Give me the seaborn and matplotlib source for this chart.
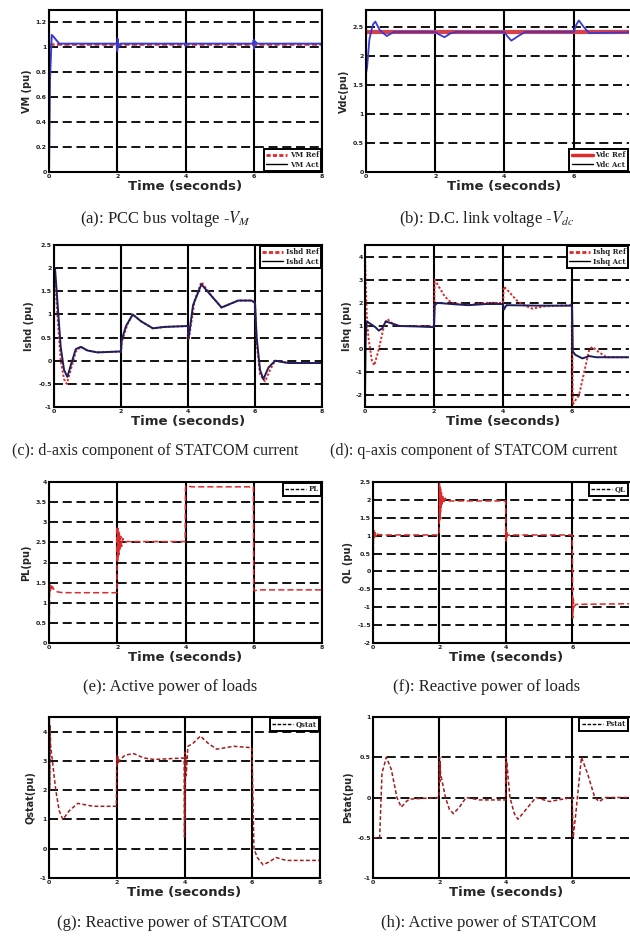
import matplotlib
matplotlib.use("Agg")
import matplotlib.pyplot as plt
import seaborn as sns
from matplotlib.lines import Line2D

sns.set_style("white")
plt.rcParams['font.family'] = ['DejaVu Sans']
plt.rcParams['mathtext.fontset'] = 'stix'

# ---------------- data ----------------
x_ticks_left = [0, 2, 4, 6, 8]
x_ticks_right = [0, 2, 4, 6]

# (a) PCC bus voltage
vm_ref_t = [0, 8]
vm_ref = [1.03, 1.03]
vm_act_t = [0, 0.03, 0.08, 0.15, 0.3, 0.6, 1.98, 2.0, 2.01, 2.03, 2.1, 3.99, 4.0, 4.02,
            5.98, 6.0, 6.01, 6.03, 6.1, 8]
vm_act = [0, 0.75, 1.1, 1.08, 1.03, 1.03, 1.03, 0.97, 1.07, 1.0, 1.03, 1.03, 1.01, 1.03,
          1.03, 1.06, 0.99, 1.05, 1.03, 1.03]

# (b) DC link voltage
vdc_ref_t = [0, 8]
vdc_ref = [2.42, 2.42]
vdc_act_t = [0, 0.03, 0.1, 0.2, 0.27, 0.4, 0.6, 0.8, 1.0, 2.0, 2.1, 2.27, 2.45, 2.6,
             4.0, 4.08, 4.2, 4.4, 4.6, 6.0, 6.08, 6.15, 6.3, 6.45, 8]
vdc_act = [1.7, 1.8, 2.3, 2.55, 2.6, 2.45, 2.35, 2.42, 2.42, 2.42, 2.38, 2.33, 2.4, 2.42,
           2.42, 2.35, 2.27, 2.35, 2.42, 2.42, 2.55, 2.62, 2.5, 2.4, 2.42]

# (c) d-axis current
ishd_act_t = [0, 0.03, 0.1, 0.2, 0.3, 0.4, 0.5, 0.65, 0.8, 1.0, 1.3, 2.0, 2.02, 2.15, 2.35,
              2.6, 2.95, 3.3, 4.0, 4.02, 4.15, 4.4, 4.7, 5.0, 5.5, 5.9, 6.0, 6.05, 6.15,
              6.25, 6.4, 6.6, 7.0, 8]
ishd_act = [2.0, 2.0, 1.3, 0.3, -0.2, -0.35, -0.1, 0.25, 0.3, 0.22, 0.18, 0.2, 0.45, 0.75, 1.0,
            0.85, 0.7, 0.73, 0.75, 0.5, 1.2, 1.65, 1.4, 1.15, 1.3, 1.3, 1.25, 0.5, -0.2,
            -0.4, -0.15, 0.0, -0.05, -0.05]
ishd_ref_t = [0, 0.03, 0.1, 0.2, 0.3, 0.38, 0.5, 0.65, 0.8, 1.0, 1.3, 2.0, 2.02, 2.2, 2.35,
              2.6, 2.95, 3.3, 4.0, 4.02, 4.2, 4.4, 4.7, 5.0, 5.5, 5.9, 6.0, 6.05, 6.15,
              6.3, 6.45, 6.6, 7.0, 8]
ishd_ref = [2.0, 1.8, 1.0, 0.0, -0.4, -0.5, -0.2, 0.2, 0.3, 0.22, 0.18, 0.2, 0.4, 0.8, 1.0,
            0.85, 0.7, 0.73, 0.75, 0.45, 1.3, 1.7, 1.4, 1.15, 1.3, 1.3, 1.25, 0.4, -0.3,
            -0.45, -0.2, 0.0, -0.05, -0.05]

# (d) q-axis current
ishq_act_t = [0, 0.02, 0.05, 0.15, 0.3, 0.4, 0.5, 0.6, 0.8, 1.0, 1.5, 2.0, 2.02, 2.1, 2.5,
              3.0, 3.5, 4.0, 4.02, 4.1, 5.0, 6.0, 6.02, 6.1, 6.3, 6.5, 6.7, 7.0, 8]
ishq_act = [-2.0, 0.5, 1.2, 1.1, 0.95, 0.8, 0.9, 1.2, 1.1, 1.0, 0.98, 0.95, 1.9, 2.0, 1.95,
            1.9, 1.95, 1.95, 1.7, 1.9, 1.88, 1.88, -0.1, -0.25, -0.4, -0.3, -0.35, -0.35, -0.35]
ishq_ref_t = [0, 0.02, 0.05, 0.1, 0.2, 0.27, 0.4, 0.55, 0.65, 0.8, 1.0, 1.5, 2.0, 2.02, 2.1,
              2.3, 2.5, 3.0, 3.5, 4.0, 4.02, 4.1, 4.4, 4.6, 4.85, 5.2, 6.0, 6.02, 6.1, 6.2,
              6.35, 6.5, 6.6, 6.75, 7.0, 8]
ishq_ref = [4.0, 3.0, 1.5, 0.5, -0.5, -0.7, 0.0, 1.0, 1.3, 1.1, 1.0, 1.0, 1.0, 3.0, 2.8,
            2.3, 2.0, 1.9, 2.0, 2.0, 2.7, 2.6, 2.1, 1.9, 1.75, 1.85, 1.9, -2.4, -2.2, -2.0,
            -1.0, 0.0, 0.1, -0.1, -0.35, -0.35]

# (e) active power of loads
pl_t = [0, 0.02, 0.04, 0.06, 0.08, 0.1, 0.13, 0.17, 0.25, 0.4, 1.99, 2.0, 2.01, 2.02, 2.03,
        2.04, 2.05, 2.06, 2.08, 2.1, 2.13, 2.16, 2.2, 2.3, 3.99, 4.0, 4.01, 4.2, 5.99, 6.0,
        6.01, 6.2, 8]
pl = [0, 1.45, 1.3, 1.42, 1.33, 1.4, 1.35, 1.3, 1.27, 1.25, 1.25, 2.9, 2.0, 2.85, 2.1,
      2.8, 2.2, 2.75, 2.3, 2.65, 2.4, 2.6, 2.5, 2.52, 2.52, 3.85, 3.9, 3.88, 3.88, 1.35,
      1.3, 1.32, 1.32]

# (f) reactive power of loads
ql_t = [0, 0.02, 0.04, 0.06, 0.08, 0.1, 0.15, 0.3, 1.99, 2.0, 2.01, 2.02, 2.03, 2.04, 2.05,
        2.06, 2.08, 2.1, 2.13, 2.17, 2.22, 2.3, 3.99, 4.0, 4.01, 4.02, 4.03, 4.05, 4.1,
        5.99, 6.0, 6.01, 6.02, 6.04, 6.1, 8]
ql = [0, 1.15, 0.95, 1.12, 0.98, 1.08, 1.03, 1.02, 1.02, 2.5, 1.4, 2.4, 1.6, 2.3, 1.75,
      2.2, 1.85, 2.12, 1.9, 2.05, 1.97, 1.97, 1.97, 0.85, 1.15, 0.95, 1.08, 1.0, 1.02,
      1.02, 0.0, -1.3, -0.7, -1.0, -0.92, -0.9]

# (g) reactive power of STATCOM
qs_t = [0, 0.01, 0.02, 0.03, 0.05, 0.1, 0.2, 0.3, 0.41, 0.6, 0.85, 1.3, 1.99, 2.0, 2.01,
        2.02, 2.03, 2.05, 2.1, 2.25, 2.5, 2.8, 3.1, 3.99, 4.0, 4.01, 4.02, 4.03, 4.05, 4.1,
        4.25, 4.47, 4.7, 4.95, 5.2, 5.45, 5.99, 6.05, 6.15, 6.32, 6.5, 6.7, 7.0, 8]
qs = [0, 4.5, 2.0, 4.2, 3.5, 3.0, 2.0, 1.3, 1.0, 1.3, 1.55, 1.45, 1.45, 2.8, 3.2,
      2.85, 3.15, 2.95, 3.05, 3.2, 3.25, 3.1, 3.05, 3.1, 0.4, 3.3, 1.0, 3.2, 2.5, 3.5,
      3.6, 3.85, 3.6, 3.4, 3.45, 3.5, 3.45, 0.0, -0.3, -0.55, -0.45, -0.3, -0.4, -0.4]

# (h) active power of STATCOM
ps_t = [0, 0.2, 0.27, 0.4, 0.55, 0.72, 0.85, 1.0, 1.1, 1.99, 2.0, 2.01, 2.02, 2.03, 2.18,
        2.3, 2.42, 2.6, 2.8, 3.2, 3.99, 4.0, 4.01, 4.02, 4.12, 4.25, 4.36, 4.6, 4.9, 5.3,
        5.99, 6.02, 6.1, 6.27, 6.45, 6.67, 6.8, 7.0, 8]
ps = [-0.5, -0.5, 0.3, 0.5, 0.35, 0.0, -0.12, -0.05, -0.02, 0.0, 0.5, 0.2, 0.45, 0.3, 0.0,
      -0.15, -0.2, -0.12, 0.0, -0.03, -0.03, 0.5, 0.2, 0.45, 0.0, -0.2, -0.27, -0.15, 0.0,
      -0.05, 0.0, -0.5, -0.2, 0.5, 0.3, 0.0, -0.05, 0.0, 0.0]

# tick values
a_yticks = [0, 0.2, 0.4, 0.6, 0.8, 1, 1.2]
b_yticks = [0, 0.5, 1, 1.5, 2, 2.5]
c_yticks = [-1, -0.5, 0, 0.5, 1, 1.5, 2, 2.5]
d_yticks = [-2, -1, 0, 1, 2, 3, 4]
e_yticks = [0, 0.5, 1, 1.5, 2, 2.5, 3, 3.5, 4]
f_yticks = [-2, -1.5, -1, -0.5, 0, 0.5, 1, 1.5, 2, 2.5]
g_yticks = [-1, 0, 1, 2, 3, 4]
h_yticks = [-1, -0.5, 0, 0.5, 1]

captions = ["(a): PCC bus voltage -$V_M$", "(b): D.C. link voltage -$V_{dc}$",
            "(c): d-axis component of STATCOM current",
            "(d): q-axis component of STATCOM current",
            "(e): Active power of loads", "(f): Reactive power of loads",
            "(g): Reactive power of STATCOM", "(h): Active power of STATCOM"]

# ---------------- layout ----------------
W, H = 630, 939
fig = plt.figure(figsize=(W / 100, H / 100), dpi=100)
fig.patch.set_facecolor("white")


def add_ax(l, t, r, b):
    return fig.add_axes([l / W, 1 - b / H, (r - l) / W, (b - t) / H])


RED = "#dd2a2a"
BLUE = "#3a3ad0"
NAVY = "#1e1e5e"
DRED = "#a31c1c"
DASH = (0, (5, 2.6))


def style(ax, xmax, xticks, ylim, yticks, ylabel, right_col=False):
    ax.set_xlim(0, xmax)
    ax.set_ylim(*ylim)
    ax.set_xticks(xticks)
    ax.set_xticklabels([f"{v:g}" for v in xticks])
    ax.set_yticks(yticks)
    ax.set_yticklabels([f"{v:g}" for v in yticks])
    ax.tick_params(labelsize=4.5, length=2, direction="in", pad=1.5, colors="#222222")
    for lab in ax.get_xticklabels() + ax.get_yticklabels():
        lab.set_fontweight("bold")
    ax.xaxis.grid(True, color="black", lw=1.5, ls="-")
    ax.yaxis.grid(True, color="black", lw=1.3, ls=DASH)
    ax.set_axisbelow(True)
    for s in ax.spines.values():
        s.set_color("black")
        s.set_linewidth(1.5)
    if right_col:
        ax.spines["right"].set_visible(False)
    ax.set_xlabel("Time (seconds)", fontsize=9.5, fontweight="bold", labelpad=1)
    if right_col:
        # centre the label on the 0..8 span, as in the original panel
        ax.xaxis.label.set_x(4 / xmax)
    ax.set_ylabel(ylabel, fontsize=7, fontweight="bold", labelpad=3)


def leg(ax, handles, loc):
    lg = ax.legend(handles=handles, loc=loc, frameon=True, fancybox=False,
                   edgecolor="black", framealpha=1, borderaxespad=0.1,
                   handlelength=3.0, borderpad=0.35, labelspacing=0.25,
                   handletextpad=0.4,
                   prop={"family": "DejaVu Serif", "weight": "bold", "size": 5.0})
    lg.get_frame().set_linewidth(1.4)


def line(ax, t, v, color, lw, ls):
    sns.lineplot(x=t, y=v, ax=ax, color=color, lw=lw, linestyle=ls,
                 estimator=None, sort=False, legend=False)


ROWS = [(10, 172), (245, 407), (482, 643), (717, 878)]

# (a)
ax = add_ax(49, ROWS[0][0], 322, ROWS[0][1])
line(ax, vm_ref_t, vm_ref, RED, 1.8, (0, (2, 1)))
line(ax, vm_act_t, vm_act, BLUE, 1.4, "-")
style(ax, 8, x_ticks_left, (0, 1.3), a_yticks, "VM (pu)")
leg(ax, [Line2D([], [], color=RED, lw=2, ls=(0, (1.5, 0.8)), label="VM Ref"),
         Line2D([], [], color="black", lw=1, label="VM Act")], "lower right")

# (b)
ax = add_ax(366, ROWS[0][0], 629, ROWS[0][1])
line(ax, vdc_ref_t, vdc_ref, "#d8404a", 3.0, "-")
line(ax, vdc_act_t, vdc_act, BLUE, 1.3, "-")
style(ax, 7.6, x_ticks_right, (0, 2.8), b_yticks, "Vdc(pu)", True)
leg(ax, [Line2D([], [], color=RED, lw=2.5, label="Vdc Ref"),
         Line2D([], [], color="black", lw=1, label="Vdc Act")], "lower right")

# (c)
ax = add_ax(54, ROWS[1][0], 322, ROWS[1][1])
line(ax, ishd_ref_t, ishd_ref, RED, 1.4, (0, (1.2, 1)))
line(ax, ishd_act_t, ishd_act, NAVY, 1.4, "-")
style(ax, 8, x_ticks_left, (-1, 2.5), c_yticks, "Ishd (pu)")
leg(ax, [Line2D([], [], color=RED, lw=2, ls=(0, (1.5, 0.8)), label="Ishd Ref"),
         Line2D([], [], color="black", lw=1, label="Ishd Act")], "upper right")

# (d)
ax = add_ax(365, ROWS[1][0], 629, ROWS[1][1])
line(ax, ishq_ref_t, ishq_ref, RED, 1.4, (0, (1.2, 1)))
line(ax, ishq_act_t, ishq_act, NAVY, 1.4, "-")
style(ax, 7.65, x_ticks_right, (-2.5, 4.5), d_yticks, "Ishq (pu)", True)
leg(ax, [Line2D([], [], color=RED, lw=2, ls=(0, (1.5, 0.8)), label="Ishq Ref"),
         Line2D([], [], color="black", lw=1, label="Ishq Act")], "upper right")

# (e)
ax = add_ax(49, ROWS[2][0], 322, ROWS[2][1])
line(ax, pl_t, pl, RED, 1.1, (0, (4, 2)))
style(ax, 8, x_ticks_left, (0, 4), e_yticks, "PL(pu)")
leg(ax, [Line2D([], [], color="black", lw=1, ls=(0, (2.5, 1.2)), label="PL")], "upper right")

# (f)
ax = add_ax(373, ROWS[2][0], 629, ROWS[2][1])
line(ax, ql_t, ql, RED, 1.1, (0, (4, 2)))
style(ax, 7.7, x_ticks_right, (-2, 2.5), f_yticks, "QL (pu)", True)
leg(ax, [Line2D([], [], color="black", lw=1, ls=(0, (2.5, 1.2)), label="QL")], "upper right")

# (g)
ax = add_ax(49, ROWS[3][0], 320, ROWS[3][1])
line(ax, qs_t, qs, DRED, 1.1, (0, (2.5, 1.5)))
style(ax, 8, x_ticks_left, (-1, 4.5), g_yticks, "Qstat(pu)")
leg(ax, [Line2D([], [], color="black", lw=1, ls=(0, (2.5, 1.2)), label="Qstat")], "upper right")

# (h)
ax = add_ax(373, ROWS[3][0], 629, ROWS[3][1])
line(ax, ps_t, ps, DRED, 1.1, (0, (2.5, 1.5)))
style(ax, 7.7, x_ticks_right, (-1, 1), h_yticks, "Pstat(pu)", True)
leg(ax, [Line2D([], [], color="black", lw=1, ls=(0, (2.5, 1.2)), label="Pstat")], "upper right")

# captions (x, y in px, alignment, size)
cap_pos = [(165, 219, "center", 12), (487, 219, "center", 12),
           (12, 451, "left", 11.6), (330, 451, "left", 11.6),
           (170, 687, "center", 12), (487, 687, "center", 12),
           (172, 923, "center", 12), (489, 923, "center", 12)]
for (cx, cy, ha, fs), txt in zip(cap_pos, captions):
    fig.text(cx / W, 1 - cy / H, txt, ha=ha, va="center",
             family="Liberation Serif", fontsize=fs, color="#222222")

fig.savefig("out.png", dpi=100, facecolor="white")
